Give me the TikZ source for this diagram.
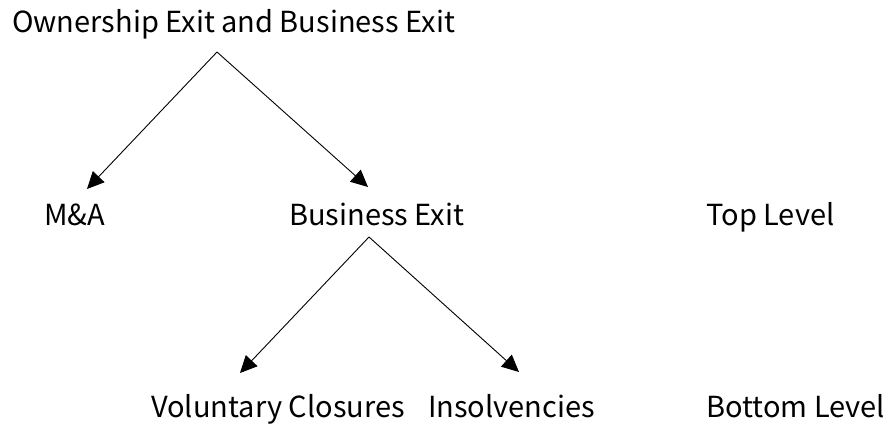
\documentclass[tikz,border=0pt]{standalone}
\usepackage{fontspec}
\setmainfont{Noto Sans CJK JP}
\usetikzlibrary{arrows.meta}
\tikzset{
  lbl/.style={anchor=base west, inner sep=0pt, font=\fontsize{29}{34}\selectfont},
  arr/.style={draw=black, line width=0.9pt, -{Triangle[length=17pt,width=16pt]}}
}
\begin{document}
\begin{tikzpicture}[x=1pt,y=-1pt]
\useasboundingbox (0,0) rectangle (888,428);
\node[lbl] (title) at (12,33) {Ownership Exit and Business Exit};
\node[lbl] (ma) at (44,225) {M\&A};
\node[lbl] (be) at (289,225) {Business Exit};
\node[lbl] (top) at (706,225) {Top Level};
\node[lbl] (vc) at (151,417) {Voluntary Closures};
\node[lbl] (ins) at (428,417) {Insolvencies};
\node[lbl] (bot) at (706,417) {Bottom Level};
\coordinate (a1) at (217,52);
\coordinate (t1) at (87,189);
\coordinate (t2) at (368,187);
\coordinate (a2) at (369,237);
\coordinate (t3) at (240,373);
\coordinate (t4) at (519,372);
\draw[arr] (a1) -- (t1);
\draw[arr] (a1) -- (t2);
\draw[arr] (a2) -- (t3);
\draw[arr] (a2) -- (t4);
\end{tikzpicture}
\end{document}
